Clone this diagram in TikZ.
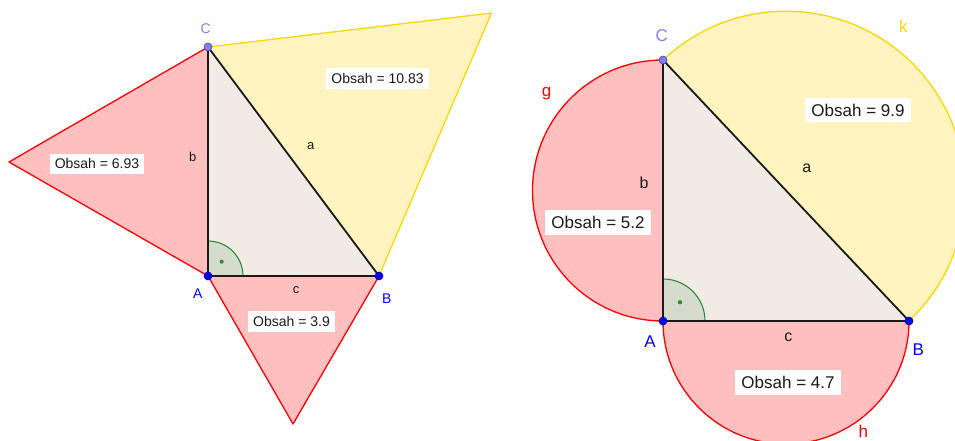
\documentclass[tikz,border=0pt]{standalone}
\usepackage{fontspec}
\setmainfont{Liberation Sans}
\definecolor{areared}{HTML}{FFBFBF}
\definecolor{edgered}{HTML}{FF0000}
\definecolor{areayellow}{HTML}{FFF3C0}
\definecolor{edgeyellow}{HTML}{FFD700}
\definecolor{trifill}{HTML}{F2EAE5}
\definecolor{anglefill}{HTML}{D6DCCD}
\definecolor{anglegreen}{HTML}{2E8B3A}
\definecolor{ptblue}{HTML}{0000FF}
\definecolor{ptlight}{HTML}{7F7FFF}
\definecolor{inkgray}{HTML}{1A1A1A}
\tikzset{
  redarea/.style={fill=areared,draw=edgered,line width=1.3pt,line join=round},
  yellowarea/.style={fill=areayellow,draw=edgeyellow,line width=1.3pt,line join=round},
  sideline/.style={draw=inkgray,line width=1.8pt,line join=round},
  anglearc/.style={draw=anglegreen,line width=1.1pt},
  ptdot/.style={circle,inner sep=0pt,minimum size=8pt,draw=#1!55!black,fill=#1,line width=0.6pt},
  arealabel/.style={fill=white,inner sep=5pt,text=inkgray,font=\fontsize{#1}{#1}\selectfont},
  sidelabel/.style={inner sep=0pt,text=inkgray,font=\fontsize{#1}{#1}\selectfont},
  ptlabel/.style={inner sep=0pt,text=#1},
}

\begin{document}
\begin{tikzpicture}[x=1pt,y=1pt]
  \useasboundingbox (0,0) rectangle (955,441);
  \clip (0,0) rectangle (955,441);
  % left figure: triangles on the sides
  \coordinate (A) at (208,165);
  \coordinate (B) at (379,165);
  \coordinate (C) at (208,394);
  \coordinate (Tb) at (9,279);
  \coordinate (Ta) at (491.5,428);
  \coordinate (Tc) at (293,17);
  \draw[yellowarea] (C)--(Ta)--(B)--cycle;
  \draw[redarea] (A)--(Tb)--(C)--cycle;
  \draw[redarea] (A)--(B)--(Tc)--cycle;
  \fill[trifill] (A)--(B)--(C)--cycle;
  \fill[anglefill] (A) -- ++(35,0) arc[start angle=0,end angle=90,radius=35] -- cycle;
  \draw[anglearc] (A) ++(35,0) arc[start angle=0,end angle=90,radius=35];
  \fill[anglegreen] (A) ++(13.7,14.3) circle (2);
  \draw[sideline] (A)--(B)--(C)--cycle;
  \node[ptdot=ptblue] (Adot) at (A) {};
  \node[ptdot=ptblue] (Bdot) at (B) {};
  \node[ptdot=ptlight] (Cdot) at (C) {};
  \node[ptlabel=ptblue,font=\fontsize{14}{14}\selectfont] (Alabel) at (197.7,147.7) {A};
  \node[ptlabel=ptblue,font=\fontsize{14}{14}\selectfont] (Blabel) at (386.7,142.7) {B};
  \node[ptlabel=ptlight,font=\fontsize{14}{14}\selectfont] (Clabel) at (205.7,412.7) {C};
  \node[sidelabel=13] (aside) at (310.7,295.3) {a};
  \node[sidelabel=13] (bside) at (192.7,284.3) {b};
  \node[sidelabel=13] (cside) at (296,151) {c};
  \node[arealabel=14] (areaA) at (377.5,362.5) {Obsah = 10.83};
  \node[arealabel=14] (areaB) at (97,277) {Obsah = 6.93};
  \node[arealabel=14] (areaC) at (291.5,119.5) {Obsah = 3.9};

  % right figure: semicircles on the sides
  \coordinate (A2) at (663,120);
  \coordinate (B2) at (909,120);
  \coordinate (C2) at (663,381);
  \draw[yellowarea] (C2) arc[start angle=133.3,delta angle=-180,radius=179.3] -- cycle;
  \draw[redarea] (C2) arc[start angle=90,delta angle=180,radius=130.5] -- cycle;
  \draw[redarea] (A2) arc[start angle=180,delta angle=180,radius=123] -- cycle;
  \fill[trifill] (A2)--(B2)--(C2)--cycle;
  \fill[anglefill] (A2) -- ++(42,0) arc[start angle=0,end angle=90,radius=42] -- cycle;
  \draw[anglearc] (A2) ++(42,0) arc[start angle=0,end angle=90,radius=42];
  \fill[anglegreen] (A2) ++(17,18.7) circle (2.2);
  \draw[sideline] (A2)--(B2)--(C2)--cycle;
  \node[ptdot=ptblue] (A2dot) at (A2) {};
  \node[ptdot=ptblue] (B2dot) at (B2) {};
  \node[ptdot=ptlight] (C2dot) at (C2) {};
  \node[ptlabel=ptblue,font=\fontsize{17}{17}\selectfont] (A2label) at (650,99.3) {A};
  \node[ptlabel=ptblue,font=\fontsize{17}{17}\selectfont] (B2label) at (918.3,91.7) {B};
  \node[ptlabel=ptlight,font=\fontsize{17}{17}\selectfont] (C2label) at (661.7,405) {C};
  \node[ptlabel=edgered,font=\fontsize{17}{17}\selectfont] (glabel) at (546.7,347.7) {g};
  \node[ptlabel=edgered,font=\fontsize{17}{17}\selectfont] (hlabel) at (863.3,10) {h};
  \node[ptlabel=edgeyellow,font=\fontsize{17}{17}\selectfont] (klabel) at (903.3,414.3) {k};
  \node[sidelabel=16] (a2side) at (806.7,272.7) {a};
  \node[sidelabel=16] (b2side) at (644,258.3) {b};
  \node[sidelabel=16] (c2side) at (788.3,103.7) {c};
  \node[arealabel=17,inner sep=6pt] (area2A) at (858,331) {Obsah = 9.9};
  \node[arealabel=17,inner sep=6pt] (area2B) at (598,218.3) {Obsah = 5.2};
  \node[arealabel=17,inner sep=6pt] (area2C) at (788,58.3) {Obsah = 4.7};
\end{tikzpicture}
\end{document}
